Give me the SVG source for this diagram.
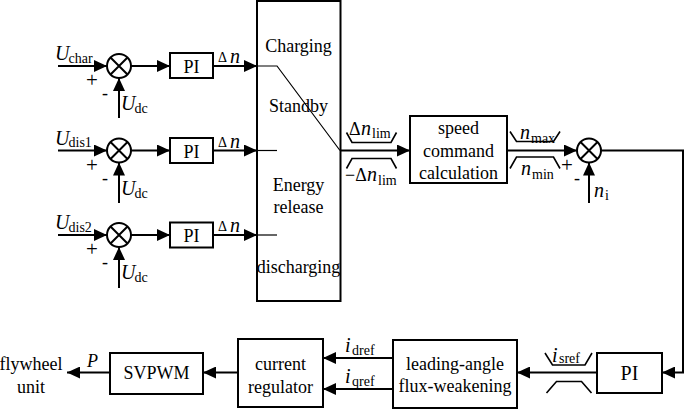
<svg xmlns="http://www.w3.org/2000/svg" width="685" height="409" viewBox="0 0 685 409" font-family="'Times New Roman', 'Liberation Serif', 'DejaVu Serif', serif">
<defs>
<marker id="ah" markerUnits="userSpaceOnUse" markerWidth="13" markerHeight="12" refX="13" refY="6" orient="auto">
<path d="M0,0 L13,6 L0,12 z" fill="#000"/>
</marker>
<style>
.bx{fill:#fff;stroke:#000;stroke-width:2}
.ln{fill:none;stroke:#000;stroke-width:2}
.thin{fill:none;stroke:#000;stroke-width:1.2}
.lim{fill:none;stroke:#000;stroke-width:1.6}
.sj{fill:#fff;stroke:#000;stroke-width:2}
text{font-family:'Times New Roman','Liberation Serif','DejaVu Serif',serif;fill:#000}
.t{font-size:18px}
.p{font-size:21px}
.c{text-anchor:middle}
.v{font-size:20px;font-style:italic}
.s{font-size:14px}
.d{font-size:14px}
</style>
</defs>
<rect width="685" height="409" fill="#fff"/>

<g id="connectors">
<line class="ln" x1="58" y1="66" x2="107" y2="66" marker-end="url(#ah)"/>
<line class="ln" x1="119" y1="118" x2="119" y2="78" marker-end="url(#ah)"/>
<line class="ln" x1="131" y1="66" x2="170" y2="66" marker-end="url(#ah)"/>
<line class="ln" x1="213" y1="66" x2="257" y2="66" marker-end="url(#ah)"/>
<line class="ln" x1="58" y1="150.5" x2="107" y2="150.5" marker-end="url(#ah)"/>
<line class="ln" x1="119" y1="203" x2="119" y2="162.5" marker-end="url(#ah)"/>
<line class="ln" x1="131" y1="150.5" x2="170" y2="150.5" marker-end="url(#ah)"/>
<line class="ln" x1="213" y1="150.5" x2="257" y2="150.5" marker-end="url(#ah)"/>
<line class="ln" x1="58" y1="235" x2="107" y2="235" marker-end="url(#ah)"/>
<line class="ln" x1="119" y1="288" x2="119" y2="247" marker-end="url(#ah)"/>
<line class="ln" x1="131" y1="235" x2="170" y2="235" marker-end="url(#ah)"/>
<line class="ln" x1="213" y1="235" x2="257" y2="235" marker-end="url(#ah)"/>
<polyline class="thin" points="257,66 277,66 340,150.5"/>
<line class="thin" x1="257" y1="150.5" x2="277" y2="150.5"/>
<line class="thin" x1="257" y1="235" x2="277" y2="235"/>
<line class="ln" x1="340" y1="150.5" x2="410" y2="150.5" marker-end="url(#ah)"/>
<polyline class="lim" points="346.5,132.5 352,142.5 391,142.5 396.5,132.5"/>
<polyline class="lim" points="346.5,168.5 352,158.5 391,158.5 396.5,168.5"/>
<line class="ln" x1="507" y1="150.5" x2="577" y2="150.5" marker-end="url(#ah)"/>
<polyline class="lim" points="510,131.5 516.5,141.5 553.5,141.5 560,131.5"/>
<polyline class="lim" points="510,168.5 516.5,157 553.5,157 560,168.5"/>
<line class="ln" x1="589" y1="203" x2="589" y2="162.5" marker-end="url(#ah)"/>
<polyline class="ln" points="601,150.5 683,150.5 683,372.5 662,372.5" marker-end="url(#ah)"/>
<line class="ln" x1="597" y1="372.5" x2="517" y2="372.5" marker-end="url(#ah)"/>
<polyline class="lim" points="545,353 552.5,365 585,365 592,353"/>
<polyline class="lim" points="546.5,393 556.5,381.5 581.5,381.5 591.5,393"/>
<line class="ln" x1="393" y1="358" x2="323" y2="358" marker-end="url(#ah)"/>
<line class="ln" x1="393" y1="389" x2="323" y2="389" marker-end="url(#ah)"/>
<line class="ln" x1="238" y1="372.5" x2="203" y2="372.5" marker-end="url(#ah)"/>
<line class="ln" x1="110" y1="372.5" x2="67" y2="372.5" marker-end="url(#ah)"/>
</g>

<g id="in-char">
<text x="55" y="60" class="v">U</text><text x="68.5" y="62.5" class="s">char</text>
<text x="92" y="87" class="p c">+</text>
<text x="105" y="99" class="t c">-</text>
<text x="121" y="110" class="v">U</text><text x="134.5" y="113" class="s">dc</text>
</g>
<g id="sum1">
<circle class="sj" cx="119" cy="66" r="12"/>
<path class="ln" d="M110.5,57.5 L127.5,74.5 M127.5,57.5 L110.5,74.5"/>
</g>
<g id="pi1">
<rect class="bx" x="170" y="53" width="43" height="25"/>
<text x="191.5" y="73" class="t c">PI</text>
<text x="218" y="62" class="d">Δ</text><text x="230" y="63" class="v">n</text>
</g>

<g id="in-dis1">
<text x="55" y="144.5" class="v">U</text><text x="68.5" y="147" class="s">dis1</text>
<text x="92" y="171.5" class="p c">+</text>
<text x="105" y="183.5" class="t c">-</text>
<text x="121" y="194.5" class="v">U</text><text x="134.5" y="197.5" class="s">dc</text>
</g>
<g id="sum2">
<circle class="sj" cx="119" cy="150.5" r="12"/>
<path class="ln" d="M110.5,142 L127.5,159 M127.5,142 L110.5,159"/>
</g>
<g id="pi2">
<rect class="bx" x="170" y="138" width="43" height="25"/>
<text x="191.5" y="157.5" class="t c">PI</text>
<text x="218" y="146.5" class="d">Δ</text><text x="230" y="147.5" class="v">n</text>
</g>

<g id="in-dis2">
<text x="55" y="229" class="v">U</text><text x="68.5" y="231.5" class="s">dis2</text>
<text x="92" y="256" class="p c">+</text>
<text x="105" y="268" class="t c">-</text>
<text x="121" y="279" class="v">U</text><text x="134.5" y="282" class="s">dc</text>
</g>
<g id="sum3">
<circle class="sj" cx="119" cy="235" r="12"/>
<path class="ln" d="M110.5,226.5 L127.5,243.5 M127.5,226.5 L110.5,243.5"/>
</g>
<g id="pi3">
<rect class="bx" x="170" y="222.5" width="43" height="25"/>
<text x="191.5" y="242" class="t c">PI</text>
<text x="218" y="231" class="d">Δ</text><text x="230" y="232" class="v">n</text>
</g>

<g id="mode-box">
<rect class="ln" x="257" y="1" width="83.5" height="300"/>
<text x="298.5" y="52" class="t c">Charging</text>
<text x="298.5" y="112" class="t c">Standby</text>
<text x="298.5" y="191" class="t c">Energy</text>
<text x="298.5" y="213" class="t c">release</text>
<text x="298.5" y="273" class="t c">discharging</text>
</g>

<g id="lim1-labels">
<text x="349" y="135" class="t">Δ</text><text x="361" y="135" class="v">n</text><text x="372" y="138" class="s">lim</text>
<text x="345" y="181" class="t">−Δ</text><text x="367" y="181" class="v">n</text><text x="378" y="184.5" class="s">lim</text>
</g>

<g id="speed-cmd">
<rect class="bx" x="410" y="116" width="97" height="67"/>
<text x="458.5" y="134" class="t c">speed</text>
<text x="458.5" y="157" class="t c">command</text>
<text x="458.5" y="179" class="t c">calculation</text>
</g>

<g id="lim2-labels">
<text x="520" y="139" class="v">n</text><text x="531" y="143" class="s">max</text>
<text x="521" y="175" class="v">n</text><text x="532" y="179" class="s">min</text>
</g>

<g id="sum4">
<circle class="sj" cx="589" cy="150.5" r="12"/>
<path class="ln" d="M580.5,142 L597.5,159 M597.5,142 L580.5,159"/>
<text x="567" y="172" class="p c">+</text>
<text x="577" y="184" class="t c">-</text>
<text x="594" y="197" class="v">n</text><text x="605" y="200" class="s">i</text>
</g>

<g id="pi4">
<rect class="bx" x="597" y="353" width="65" height="40"/>
<text x="629.5" y="380" class="t c" style="font-size:20px">PI</text>
<text x="552" y="362" class="v">i</text><text x="559" y="363" class="s">sref</text>
</g>

<g id="flux-weakening">
<rect class="bx" x="393" y="340" width="124" height="68"/>
<text x="455" y="370" class="t c">leading-angle</text>
<text x="455" y="392" class="t c">flux-weakening</text>
</g>

<g id="current-reg">
<rect class="bx" x="238" y="339" width="85" height="68"/>
<text x="280.5" y="370" class="t c">current</text>
<text x="280.5" y="393" class="t c">regulator</text>
<text x="345" y="352" class="v">i</text><text x="352" y="355" class="s">dref</text>
<text x="345" y="383" class="v">i</text><text x="352" y="386" class="s">qref</text>
</g>

<g id="svpwm">
<rect class="bx" x="110" y="353" width="93" height="41"/>
<text x="156.5" y="379" class="t c">SVPWM</text>
<text x="87" y="367" class="v" style="font-size:18px">P</text>
</g>

<g id="flywheel">
<text x="31" y="370" class="t c">flywheel</text>
<text x="31" y="393" class="t c">unit</text>
</g>
</svg>
